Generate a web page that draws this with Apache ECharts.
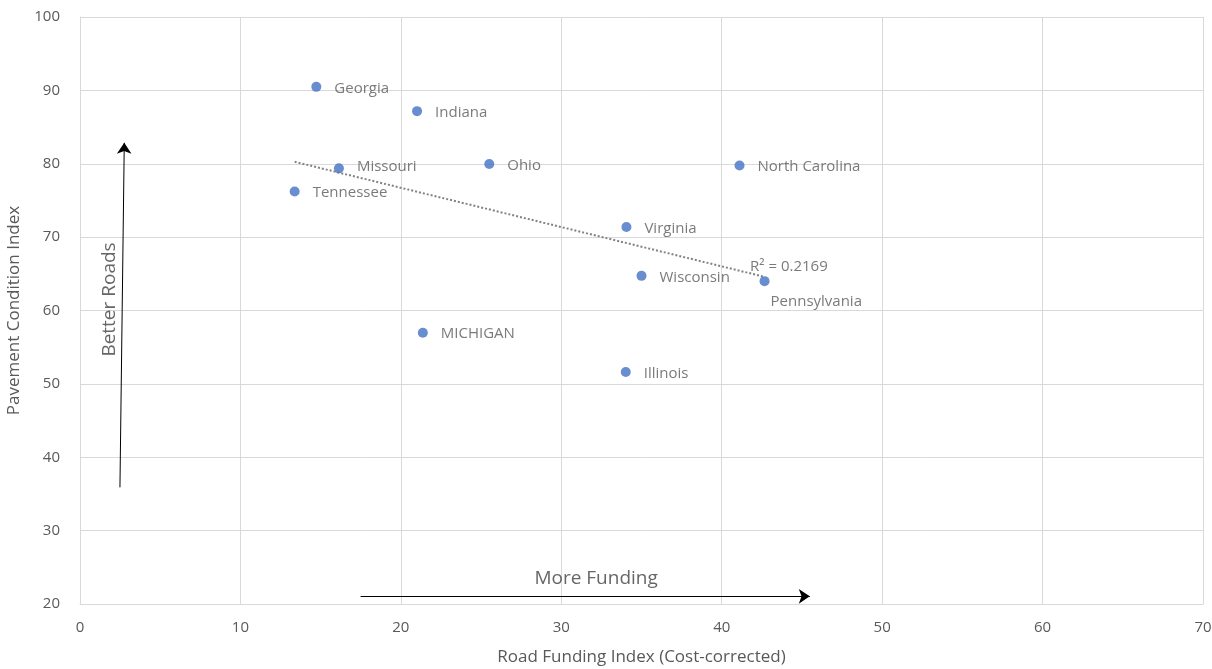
<!DOCTYPE html>
<html>
<head>
<meta charset="utf-8">
<script src="https://cdn.jsdelivr.net/npm/echarts@6/dist/echarts.min.js"></script>
<style>
  html, body { margin: 0; padding: 0; background: #ffffff; }
  #chart { width: 1212px; height: 669px; }
</style>
</head>
<body>
<div id="chart"></div>
<script>
// State-level road funding vs. pavement condition
const states   = ['Georgia', 'Indiana', 'Missouri', 'Ohio', 'Tennessee', 'North Carolina',
                  'Virginia', 'Wisconsin', 'Pennsylvania', 'MICHIGAN', 'Illinois'];
const funding  = [14.73, 21.01, 16.14, 25.51, 13.38, 41.11, 34.06, 35.0, 42.67, 21.37, 34.02];
const pavement = [90.48, 87.17, 79.37, 79.96, 76.23, 79.77, 71.39, 64.72, 64.0, 56.97, 51.62];
const rSquaredText = 'R² = 0.2169';

// Axis ranges and tick spacing
const xRange = [0, 70, 10];
const yRange = [20, 100, 10];

// Annotation arrows (data coordinates) and their captions
const fundingArrow = { from: [17.49, 21.05], to: [45.49, 21.05] };
const roadsArrow   = { from: [2.49, 35.9],  to: [2.76, 82.86] };
const captions = [
  { text: 'More Funding', at: [32.17, 23.4], rotate: 0 },
  { text: 'Better Roads', at: [1.87, 61.5], rotate: 90 }
];

// Least-squares linear trend through the points
function linearFit(xs, ys) {
  const n = xs.length;
  const mx = xs.reduce((s, v) => s + v, 0) / n;
  const my = ys.reduce((s, v) => s + v, 0) / n;
  let sxy = 0, sxx = 0;
  for (let i = 0; i < n; i++) {
    sxy += (xs[i] - mx) * (ys[i] - my);
    sxx += (xs[i] - mx) * (xs[i] - mx);
  }
  const slope = sxy / sxx;
  return { slope, intercept: my - slope * mx };
}
const fit = linearFit(funding, pavement);
const xMin = Math.min(...funding);
const xMax = Math.max(...funding);
const trendData = [
  [xMin, fit.intercept + fit.slope * xMin],
  [xMax, fit.intercept + fit.slope * xMax]
];

const FONT = '"Open Sans", sans-serif';
const TEXT = '#595959';
const GRID = '#d9d9d9';

const pointData = states.map((name, i) => {
  const item = { name, value: [funding[i], pavement[i]] };
  if (name === 'Pennsylvania') {
    item.label = { position: [11, 26], align: 'left', verticalAlign: 'middle', offset: [0, 0] };
  } else if (name === 'Missouri') {
    item.label = { offset: [0, -2] };
  }
  return item;
});

const chart = echarts.init(document.getElementById('chart'), null, { renderer: 'canvas' });

chart.setOption({
  animation: false,
  backgroundColor: '#ffffff',
  textStyle: { fontFamily: FONT },
  grid: { left: 80, right: 9, top: 17, bottom: 65, containLabel: false, outerBoundsMode: 'none' },
  xAxis: {
    type: 'value',
    min: xRange[0], max: xRange[1], interval: xRange[2],
    name: 'Road Funding Index (Cost-corrected)',
    nameLocation: 'middle',
    nameGap: 45,
    nameTextStyle: { color: TEXT, fontSize: 17, fontFamily: FONT },
    axisLine: { show: true, lineStyle: { color: GRID, width: 1 } },
    axisTick: { show: false },
    axisLabel: { color: TEXT, fontSize: 15, fontFamily: FONT, margin: 16 },
    splitLine: { show: true, lineStyle: { color: GRID, width: 1 } }
  },
  yAxis: {
    type: 'value',
    min: yRange[0], max: yRange[1], interval: yRange[2],
    name: 'Pavement Condition Index',
    nameLocation: 'middle',
    nameGap: 57,
    nameTextStyle: { color: TEXT, fontSize: 17, fontFamily: FONT },
    axisLine: { show: true, lineStyle: { color: GRID, width: 1 } },
    axisTick: { show: false },
    axisLabel: { color: TEXT, fontSize: 15, fontFamily: FONT, margin: 20 },
    splitLine: { show: true, lineStyle: { color: GRID, width: 1 } }
  },
  series: [
    {
      // dotted linear trendline
      type: 'line',
      data: trendData,
      symbol: 'none',
      silent: true,
      z: 2,
      lineStyle: { color: '#828282', width: 2, type: [2, 2] }
    },
    {
      // R² caption at the end of the trendline
      type: 'scatter',
      data: [trendData[1]],
      symbolSize: 1,
      itemStyle: { color: 'rgba(0,0,0,0)' },
      silent: true,
      z: 3,
      label: {
        show: true,
        formatter: rSquaredText,
        position: [-14, -10],
        align: 'left',
        verticalAlign: 'middle',
        color: TEXT,
        fontSize: 15,
        fontFamily: FONT
      }
    },
    {
      // direction arrows
      type: 'line',
      data: [],
      silent: true,
      z: 4,
      markLine: {
        silent: true,
        symbol: ['none', 'arrow'],
        symbolSize: 11,
        animation: false,
        lineStyle: { color: '#000000', width: 1, type: 'solid' },
        emphasis: { disabled: true },
        label: { show: false },
        data: [fundingArrow, roadsArrow].map(a => [{ coord: a.from }, { coord: a.to }])
      }
    },
    {
      // arrow captions
      type: 'scatter',
      data: captions.map(c => ({
        value: c.at,
        label: { formatter: c.text, rotate: c.rotate }
      })),
      symbolSize: 1,
      itemStyle: { color: 'rgba(0,0,0,0)' },
      silent: true,
      z: 4,
      label: {
        show: true,
        position: 'inside',
        align: 'center',
        verticalAlign: 'middle',
        color: '#404040',
        fontSize: 19,
        fontFamily: FONT
      }
    },
    {
      type: 'scatter',
      data: pointData,
      symbol: 'circle',
      symbolSize: 10,
      z: 5,
      itemStyle: { color: '#4472c4' },
      label: {
        show: true,
        formatter: '{b}',
        position: 'right',
        distance: 13,
        offset: [0, 1.5],
        color: TEXT,
        fontSize: 15,
        fontFamily: FONT
      }
    }
  ]
});
</script>
</body>
</html>
